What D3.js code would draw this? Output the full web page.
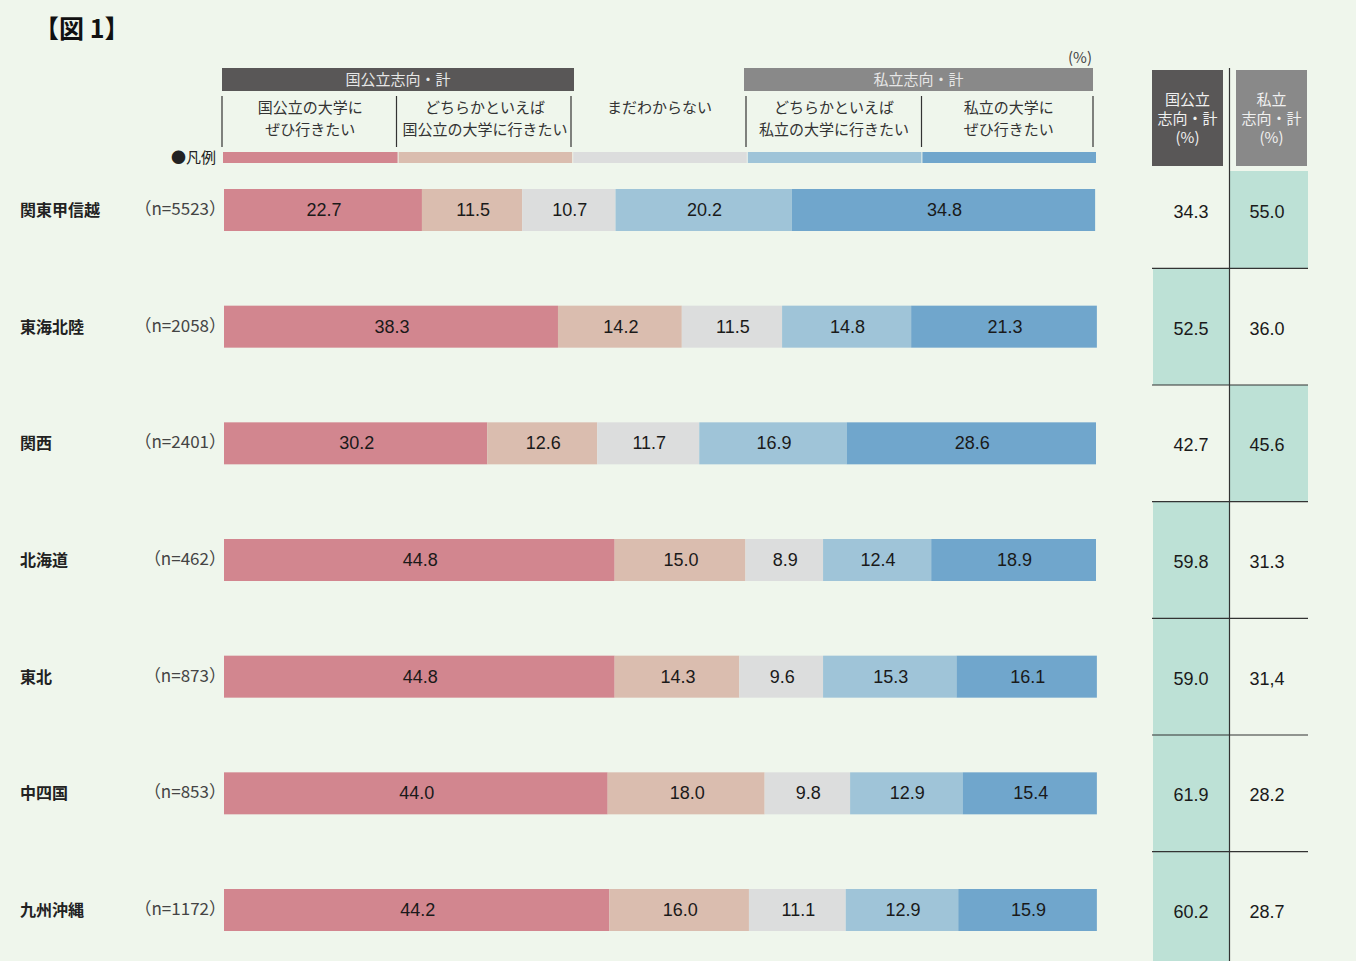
<!DOCTYPE html>
<html>
<head>
<meta charset="utf-8">
<script src="https://cdn.jsdelivr.net/npm/d3@7"></script>
<style>
  body { margin: 0; background: #eff6ec; }
  svg { display: block; }
</style>
</head>
<body>
<div id="chart"></div>
<script>
var regions = ["関東甲信越", "東海北陸", "関西", "北海道", "東北", "中四国", "九州沖縄"];
var sizes = ["(n=5523)", "(n=2058)", "(n=2401)", "(n=462)", "(n=873)", "(n=853)", "(n=1172)"];
var seriesNames = ["国公立の大学に\nぜひ行きたい", "どちらかといえば\n国公立の大学に行きたい", "まだわからない", "どちらかといえば\n私立の大学に行きたい", "私立の大学に\nぜひ行きたい"];
var definitely_public = [22.7, 38.3, 30.2, 44.8, 44.8, 44.0, 44.2];
var rather_public = [11.5, 14.2, 12.6, 15.0, 14.3, 18.0, 16.0];
var undecided = [10.7, 11.5, 11.7, 8.9, 9.6, 9.8, 11.1];
var rather_private = [20.2, 14.8, 16.9, 12.4, 15.3, 12.9, 12.9];
var definitely_private = [34.8, 21.3, 28.6, 18.9, 16.1, 15.4, 15.9];
var public_total = [34.3, 52.5, 42.7, 59.8, 59.0, 61.9, 60.2];
var private_total = [55.0, 36.0, 45.6, 31.3, 31.4, 28.2, 28.7];
var totalLabels = ["55.0", "36.0", "45.6", "31.3", "31,4", "28.2", "28.7"];

var colors = ["#d2868f", "#dabdaf", "#dcdddd", "#9fc4d8", "#70a6cc"];
var jp = "'Noto Sans CJK JP', sans-serif";
var num = "'Liberation Sans', Arial, sans-serif";

var W = 1356, H = 961;
var svg = d3.select("#chart").append("svg").attr("width", W).attr("height", H);
svg.append("rect").attr("width", W).attr("height", H).attr("fill", "#eff6ec");

var x = d3.scaleLinear().domain([0, 100]).range([224, 1096]);
var y = d3.scalePoint().domain(regions).range([210, 910]);
var barH = 42;

var table = regions.map(function(r, i) {
  return [definitely_public[i], rather_public[i], undecided[i], rather_private[i], definitely_private[i]];
});
var stackData = regions.map(function(r, i) {
  var o = {region: r};
  table[i].forEach(function(v, k) { o["s" + k] = v; });
  return o;
});
var keys = ["s0", "s1", "s2", "s3", "s4"];
var stacked = d3.stack().keys(keys)(stackData);

// title
svg.append("text").attr("x", 34).attr("y", 38).text("【図 1】")
  .style("font-family", jp).style("font-size", "25px").style("font-weight", "bold").attr("fill", "#111");

// (%)
svg.append("text").attr("x", 1092).attr("y", 63).attr("text-anchor", "end").text("(%)")
  .style("font-family", jp).style("font-size", "15px").attr("fill", "#444");

// legend columns
var legendX = d3.scaleBand().domain(d3.range(5)).range([223, 1096]);
var groups = [
  {label: "国公立志向・計", x0: 222, x1: 574, fill: "#595757"},
  {label: "私立志向・計", x0: 744, x1: 1093, fill: "#898989"}
];
svg.selectAll(".grp").data(groups).enter().append("rect")
  .attr("x", function(d) { return d.x0; }).attr("y", 68)
  .attr("width", function(d) { return d.x1 - d.x0; }).attr("height", 23)
  .attr("fill", function(d) { return d.fill; });
svg.selectAll(".grpt").data(groups).enter().append("text")
  .attr("x", function(d) { return (d.x0 + d.x1) / 2; }).attr("y", 85)
  .attr("text-anchor", "middle").text(function(d) { return d.label; })
  .style("font-family", jp).style("font-size", "15px").attr("fill", "#e6e6e6");

var dividers = [222, 396.5, 571, 746, 921.5, 1093];
svg.selectAll(".div").data(dividers).enter().append("line")
  .attr("x1", function(d) { return d; }).attr("x2", function(d) { return d; })
  .attr("y1", 96).attr("y2", 147).attr("stroke", "#333").attr("stroke-width", 1.2);

seriesNames.forEach(function(name, k) {
  var lines = name.split("\n");
  var t = svg.append("text").attr("text-anchor", "middle")
    .style("font-family", jp).style("font-size", "15px").attr("fill", "#333");
  lines.forEach(function(l, j) {
    t.append("tspan").attr("x", legendX(k) + legendX.bandwidth() / 2)
      .attr("y", 113 + j * 22).text(l);
  });
});

svg.selectAll(".leg").data(d3.range(5)).enter().append("rect")
  .attr("x", function(d) { return legendX(d) + (d ? 1 : 0); }).attr("y", 152)
  .attr("width", function(d) { return legendX.bandwidth() - (d ? 1 : 0); }).attr("height", 11)
  .attr("fill", function(d) { return colors[d]; });
svg.append("text").attr("x", 216).attr("y", 163).attr("text-anchor", "end").text("●凡例")
  .style("font-family", jp).style("font-size", "15px").attr("fill", "#222");

// bars
var layer = svg.selectAll(".layer").data(stacked).enter().append("g")
  .attr("fill", function(d, i) { return colors[i]; });
layer.selectAll("rect").data(function(d) { return d; }).enter().append("rect")
  .attr("x", function(d) { return x(d[0]); })
  .attr("y", function(d) { return y(d.data.region) - barH / 2; })
  .attr("width", function(d) { return x(d[1]) - x(d[0]); })
  .attr("height", barH);
layer.selectAll("text").data(function(d) { return d; }).enter().append("text")
  .attr("x", function(d) { return (x(d[0]) + x(d[1])) / 2 + 1; })
  .attr("y", function(d) { return y(d.data.region) + 6; })
  .attr("text-anchor", "middle")
  .text(function(d) { return (d[1] - d[0]).toFixed(1); })
  .style("font-family", num).style("font-size", "18px").attr("fill", "#1a1a1a");

// row labels
svg.selectAll(".reg").data(regions).enter().append("text")
  .attr("x", 20).attr("y", function(d) { return y(d) + 6; }).text(function(d) { return d; })
  .style("font-family", jp).style("font-size", "16px").style("font-weight", "bold").attr("fill", "#222");
svg.selectAll(".n").data(sizes).enter().append("text")
  .attr("x", 226).attr("y", function(d, i) { return y(regions[i]) + 5; })
  .attr("text-anchor", "end").text(function(d) { return d.replace("(", "（").replace(")", "）"); })
  .style("font-family", jp).style("font-size", "17px").attr("fill", "#444");

// right table
var cols = [{x0: 1153, x1: 1229, vals: public_total, labels: public_total.map(function(v) { return v.toFixed(1); })},
            {x0: 1230, x1: 1308, vals: private_total, labels: totalLabels}];
var step = y.step();
function rowTop(i) { return i === 0 ? 171 : y(regions[i]) - step / 2; }
function rowBot(i) { return i === regions.length - 1 ? H : y(regions[i]) + step / 2; }

regions.forEach(function(r, i) {
  var win = public_total[i] >= private_total[i] ? 0 : 1;
  var c = cols[win];
  svg.append("rect").attr("x", c.x0).attr("y", rowTop(i))
    .attr("width", c.x1 - c.x0).attr("height", rowBot(i) - rowTop(i)).attr("fill", "#bde1d6");
});
cols.forEach(function(c, ci) {
  svg.selectAll(null).data(c.labels).enter().append("text")
    .attr("x", (c.x0 + c.x1) / 2 - ci * 2).attr("y", function(d, i) { return y(regions[i]) + 8; })
    .attr("text-anchor", "middle").text(function(d) { return d; })
    .style("font-family", num).style("font-size", "18px").attr("fill", "#1a1a1a");
});
svg.selectAll(".hl").data(regions.slice(1)).enter().append("line")
  .attr("x1", 1152).attr("x2", 1308)
  .attr("y1", function(d) { return y(d) - step / 2; }).attr("y2", function(d) { return y(d) - step / 2; })
  .attr("stroke", "#333").attr("stroke-width", 1.2);
svg.append("line").attr("x1", 1229.5).attr("x2", 1229.5).attr("y1", 68).attr("y2", H)
  .attr("stroke", "#333").attr("stroke-width", 1.2);

var heads = [{x0: 1152, x1: 1223, fill: "#595757", lines: ["国公立", "志向・計", "(%)"]},
             {x0: 1236, x1: 1307, fill: "#898989", lines: ["私立", "志向・計", "(%)"]}];
heads.forEach(function(h) {
  svg.append("rect").attr("x", h.x0).attr("y", 70).attr("width", h.x1 - h.x0).attr("height", 96).attr("fill", h.fill);
  var t = svg.append("text").attr("text-anchor", "middle")
    .style("font-family", jp).style("font-size", "15px").attr("fill", "#f0f0f0");
  h.lines.forEach(function(l, j) {
    t.append("tspan").attr("x", (h.x0 + h.x1) / 2).attr("y", 105 + j * 19).text(l);
  });
});
</script>
</body>
</html>
